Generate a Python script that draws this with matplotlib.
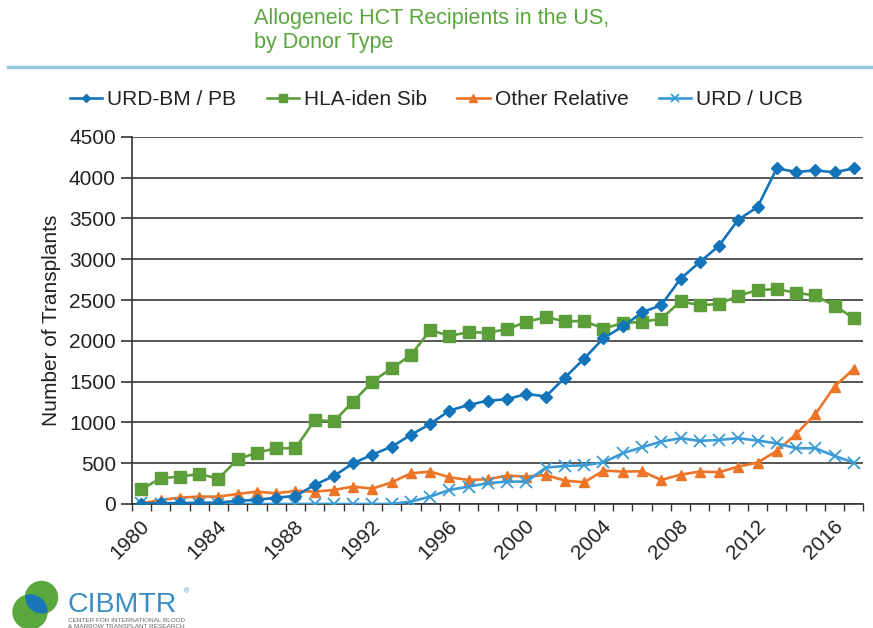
import matplotlib
matplotlib.use("Agg")
import matplotlib.pyplot as plt
import matplotlib.patches as mpatches
import matplotlib.transforms as mtransforms
from matplotlib.ticker import MultipleLocator

plt.rcParams['font.family'] = ['Liberation Sans', 'DejaVu Sans']

years = list(range(1980, 2018))

# URD-BM / PB
urd_bm = [5, 8, 12, 14, 16, 40, 50, 78, 98, 233, 344, 499, 605, 703, 847, 982, 1145, 1215, 1266,
          1284, 1350, 1317, 1550, 1783, 2033, 2176, 2348, 2438, 2761, 2965, 3166, 3485, 3640,
          4115, 4070, 4090, 4066, 4115]
# HLA-iden Sib
hla_sib = [180, 315, 335, 368, 311, 548, 630, 683, 683, 1027, 1014, 1256, 1501, 1665, 1824, 2131,
           2061, 2106, 2100, 2143, 2233, 2290, 2241, 2241, 2151, 2217, 2233, 2270, 2483, 2438,
           2450, 2552, 2622, 2634, 2589, 2556, 2430, 2278]
# Other Relative
other_rel = [8, 49, 78, 90, 90, 123, 151, 131, 160, 151, 172, 213, 188, 266, 376, 397, 327, 294,
             303, 348, 335, 356, 286, 266, 409, 397, 401, 294, 360, 397, 389, 458, 507, 650, 855,
             1100, 1440, 1656]
# URD / UCB
urd_ucb = [8, 0, 0, 0, 0, 0, 0, 0, 0, 0, 0, 0, 0, 0, 29, 90, 172, 213, 255, 274, 274, 446, 466,
           474, 511, 622, 695, 765, 806, 773, 785, 806, 777, 744, 683, 683, 589, 507]

c_blue = '#1474BA'
c_green = '#5B9E3A'
c_orange = '#EC7528'
c_cyan = '#3A9BD6'

fig = plt.figure(figsize=(8.73, 6.28), dpi=100)
ax = fig.add_axes([0.151, 0.1975, 0.838, 0.5845])

ax.plot(years, urd_bm, color=c_blue, lw=1.9, marker='D', ms=6, label='URD-BM / PB', zorder=4)
ax.plot(years, hla_sib, color=c_green, lw=1.9, marker='s', ms=8, label='HLA-iden Sib', zorder=3)
ax.plot(years, other_rel, color=c_orange, lw=1.9, marker='^', ms=7.5, label='Other Relative', zorder=3)
ax.plot(years, urd_ucb, color=c_cyan, lw=1.9, marker='x', ms=8, mew=1.3, label='URD / UCB', zorder=3)

ax.set_xlim(1979.5, 2017.5)
ax.set_ylim(0, 4500)
ax.yaxis.set_major_locator(MultipleLocator(500))
ax.grid(axis='y', color='#3a3a3a', lw=1.2)
ax.set_axisbelow(True)

for s in ['top', 'right']:
    ax.spines[s].set_visible(False)
ax.spines['left'].set_color('#333333')
ax.spines['bottom'].set_color('#333333')
ax.spines['left'].set_linewidth(1.2)
ax.spines['bottom'].set_linewidth(1.2)

ax.set_xticks(range(1980, 2017, 4))
ax.set_xticks([y + 0.5 for y in range(1979, 2018)], minor=True)
ax.tick_params(axis='x', which='major', length=0, pad=14)
ax.tick_params(axis='x', which='minor', length=5, width=1, color='#333333', direction='out')
ax.tick_params(axis='y', length=8, width=1.2, color='#333333', labelsize=15, labelcolor='#222222')
shift = mtransforms.ScaledTranslation(5 / 100, 0, fig.dpi_scale_trans)
for lab in ax.get_xticklabels():
    lab.set_rotation(45)
    lab.set_ha('right')
    lab.set_va('center')
    lab.set_rotation_mode('anchor')
    lab.set_fontsize(15)
    lab.set_color('#222222')
    lab.set_transform(lab.get_transform() + shift)

ax.set_ylabel('Number of Transplants', fontsize=15, color='#222222', labelpad=6)

fig.legend(loc='center left', bbox_to_anchor=(0.080, 0.841), ncol=4, frameon=False,
           fontsize=15, handlelength=1.55, handletextpad=0.25, columnspacing=1.45,
           borderpad=0, borderaxespad=0, markerscale=0.75, labelcolor='#222222')

fig.text(0.291, 0.987, 'Allogeneic HCT Recipients in the US,\nby Donor Type',
         color='#5AA63E', fontsize=15.5, va='top', ha='left', linespacing=1.2)
fig.add_artist(plt.Line2D([0.009, 1.0], [0.894, 0.894], color='#93CBE3', lw=2.5))

# CIBMTR logo
upper = mpatches.Ellipse((0.0475, 0.0486), 0.0367, 0.0510, color='#5BA83E')
lower = mpatches.Ellipse((0.0344, 0.0255), 0.0390, 0.0540, color='#5BA83E')
lens = mpatches.Ellipse((0.0344, 0.0255), 0.0390, 0.0540, color='#1B75BB')
fig.add_artist(upper)
fig.add_artist(lower)
fig.add_artist(lens)
lens.set_clip_path(mpatches.Ellipse((0.0475, 0.0486), 0.0367, 0.0510, transform=fig.transFigure))
fig.text(0.077, 0.0255, 'CIBMTR', color='#3B8DC6', fontsize=20.5, ha='left', va='baseline')
fig.text(0.211, 0.056, '®', color='#3B8DC6', fontsize=5, ha='left', va='baseline')
fig.text(0.078, 0.010, 'CENTER FOR INTERNATIONAL BLOOD', color='#666666', fontsize=4.6,
         ha='left', va='baseline')
fig.text(0.078, 0.0005, '& MARROW TRANSPLANT RESEARCH', color='#666666', fontsize=4.6,
         ha='left', va='baseline')

fig.savefig('out.png', dpi=100)
